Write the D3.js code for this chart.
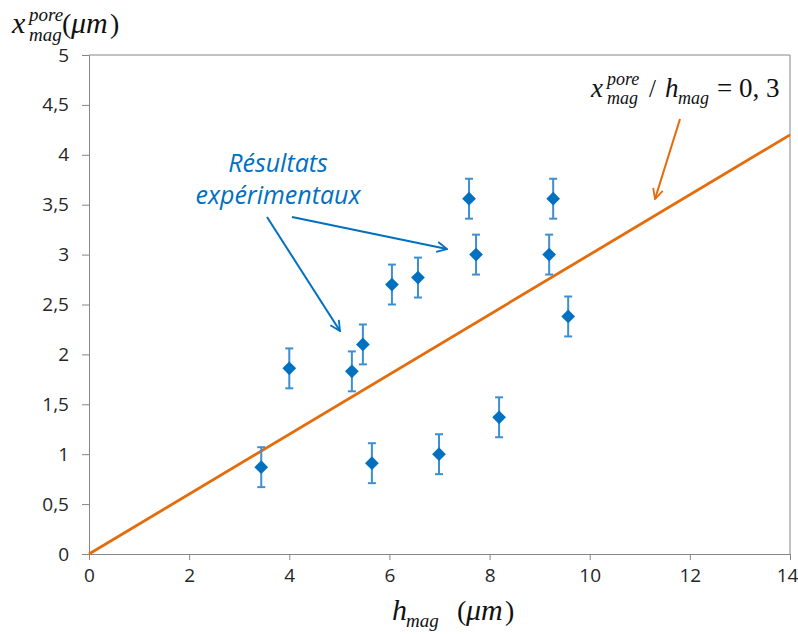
<!DOCTYPE html>
<html>
<head>
<meta charset="utf-8">
<script src="https://cdn.jsdelivr.net/npm/d3@7"></script>
<style>
  body { margin: 0; background: #fff; }
  svg { display: block; }
</style>
</head>
<body>
<div id="wrapper"></div>
<script>
// measured points (h_mag, x_mag^pore) in µm
const hMag = [3.44, 4.0, 5.25, 5.47, 5.65, 6.05, 6.57, 6.99, 7.59, 7.73, 8.19, 9.19, 9.27, 9.57]
const xPore = [0.87, 1.86, 1.83, 2.10, 0.91, 2.70, 2.77, 1.00, 3.56, 3.00, 1.37, 3.00, 3.56, 2.38]
const errBar = [0.2, 0.2, 0.2, 0.2, 0.2, 0.2, 0.2, 0.2, 0.2, 0.2, 0.2, 0.2, 0.2, 0.2]
const ratio = 0.3
const xTicks = [0, 2, 4, 6, 8, 10, 12, 14]
const yTicks = [0, 0.5, 1, 1.5, 2, 2.5, 3, 3.5, 4, 4.5, 5]

const dataset = hMag.map((h, i) => ({ h: h, x: xPore[i], err: errBar[i] }))

const xAccessor = d => d.h
const yAccessor = d => d.x

let dimensions = {
  width: 798,
  height: 634,
  margin: { top: 55, right: 8, bottom: 80, left: 89 }
}
dimensions.boundedWidth = dimensions.width - dimensions.margin.left - dimensions.margin.right
dimensions.boundedHeight = dimensions.height - dimensions.margin.top - dimensions.margin.bottom

const wrapper = d3.select("#wrapper")
  .append("svg")
    .attr("width", dimensions.width)
    .attr("height", dimensions.height)

const defs = wrapper.append("defs")
const addArrow = (id, color) => {
  defs.append("marker")
      .attr("id", id)
      .attr("viewBox", "0 0 12 12")
      .attr("refX", 11)
      .attr("refY", 6)
      .attr("markerWidth", 12)
      .attr("markerHeight", 12)
      .attr("markerUnits", "userSpaceOnUse")
      .attr("orient", "auto")
    .append("path")
      .attr("d", "M1,1 L11,6 L1,11")
      .attr("fill", "none")
      .attr("stroke", color)
      .attr("stroke-width", 1.8)
}
addArrow("arrowBlue", "#0070c0")
addArrow("arrowOrange", "#e46c0a")

const bounds = wrapper.append("g")
    .attr("transform", `translate(${dimensions.margin.left},${dimensions.margin.top})`)

const xScale = d3.scaleLinear()
    .domain([0, 14])
    .range([0, dimensions.boundedWidth])

const yScale = d3.scaleLinear()
    .domain([0, 5])
    .range([dimensions.boundedHeight, 0])

// plot frame (top + right)
bounds.append("path")
    .attr("d", `M0,0 H${dimensions.boundedWidth} V${dimensions.boundedHeight}`)
    .attr("fill", "none")
    .attr("stroke", "#868686")
    .attr("stroke-width", 1)

const fmt = d => String(d).replace(".", ",")

const yAxis = bounds.append("g")
    .attr("font-size", 19)
    .attr("font-family", "'Open Sans', sans-serif")
    .call(d3.axisLeft(yScale).tickValues(yTicks).tickFormat(fmt).tickSize(7).tickPadding(13))
    .attr("font-size", 19)
    .attr("font-family", "'Open Sans', sans-serif")
yAxis.select(".domain").attr("stroke", "#868686")
yAxis.selectAll(".tick line").attr("stroke", "#868686")
yAxis.selectAll("text").attr("fill", "#262626")

const xAxis = bounds.append("g")
    .attr("transform", `translate(0,${dimensions.boundedHeight})`)
    .call(d3.axisBottom(xScale).tickValues(xTicks).tickFormat(fmt).tickSize(6).tickPadding(9))
    .attr("font-size", 19)
    .attr("font-family", "'Open Sans', sans-serif")
xAxis.select(".domain").attr("stroke", "#868686")
xAxis.selectAll(".tick line").attr("stroke", "#868686")
xAxis.selectAll("text").attr("fill", "#262626")
xAxis.selectAll(".tick").filter(d => d === 14).select("text").attr("dx", -3)

// ratio line
const fitLine = d3.line()
    .x(d => xScale(d))
    .y(d => yScale(d * ratio))
bounds.append("path")
    .attr("d", fitLine([0, 14]))
    .attr("fill", "none")
    .attr("stroke", "#e46c0a")
    .attr("stroke-width", 2.8)

// error bars
const errGroup = bounds.append("g")
    .attr("stroke", "#3d8fd4")
    .attr("stroke-width", 2)
errGroup.selectAll(".err")
    .data(dataset)
  .enter().append("line")
    .attr("x1", d => xScale(xAccessor(d)))
    .attr("x2", d => xScale(xAccessor(d)))
    .attr("y1", d => yScale(yAccessor(d) - d.err))
    .attr("y2", d => yScale(yAccessor(d) + d.err))
errGroup.selectAll(".capTop")
    .data(dataset)
  .enter().append("line")
    .attr("x1", d => xScale(xAccessor(d)) - 4)
    .attr("x2", d => xScale(xAccessor(d)) + 4)
    .attr("y1", d => yScale(yAccessor(d) + d.err))
    .attr("y2", d => yScale(yAccessor(d) + d.err))
errGroup.selectAll(".capBottom")
    .data(dataset)
  .enter().append("line")
    .attr("x1", d => xScale(xAccessor(d)) - 4)
    .attr("x2", d => xScale(xAccessor(d)) + 4)
    .attr("y1", d => yScale(yAccessor(d) - d.err))
    .attr("y2", d => yScale(yAccessor(d) - d.err))

// diamonds
bounds.selectAll(".pt")
    .data(dataset)
  .enter().append("path")
    .attr("d", d3.symbol().type(d3.symbolDiamond2).size(120))
    .attr("transform", d => `translate(${xScale(xAccessor(d))},${yScale(yAccessor(d))})`)
    .attr("fill", "#0070c0")

// annotation: experimental results
const note = wrapper.append("text")
    .attr("fill", "#0070c0")
    .style("font-family", "'Open Sans', sans-serif")
    .style("font-style", "italic")
    .style("font-size", "25px")
    .attr("text-anchor", "middle")
note.append("tspan").attr("x", 278).attr("y", 172).text("Résultats")
note.append("tspan").attr("x", 278).attr("y", 204).text("expérimentaux")

wrapper.append("line")
    .attr("x1", 267).attr("y1", 217).attr("x2", 340).attr("y2", 331)
    .attr("stroke", "#0070c0").attr("stroke-width", 2)
    .attr("marker-end", "url(#arrowBlue)")
wrapper.append("line")
    .attr("x1", 292).attr("y1", 217).attr("x2", 447).attr("y2", 249)
    .attr("stroke", "#0070c0").attr("stroke-width", 2)
    .attr("marker-end", "url(#arrowBlue)")

wrapper.append("line")
    .attr("x1", 680).attr("y1", 119).attr("x2", 655).attr("y2", 199)
    .attr("stroke", "#e46c0a").attr("stroke-width", 2)
    .attr("marker-end", "url(#arrowOrange)")

// math labels
const serif = "'Liberation Serif', 'Times New Roman', serif"
const mathText = (x, y, size, str, italic) => wrapper.append("text")
    .attr("x", x).attr("y", y)
    .attr("fill", "#111")
    .style("font-family", serif)
    .style("font-size", size + "px")
    .style("font-style", italic ? "italic" : "normal")
    .text(str)

// y title
mathText(12, 33, 30, "x", true)
mathText(29, 21, 19, "pore", true)
mathText(29, 41, 19, "mag", true)
mathText(62, 33, 28, "(", false)
mathText(71, 33, 30, "μm", true)
mathText(110, 33, 28, ")", false)

// equation
mathText(591, 97, 27, "x", true)
mathText(607, 85, 18, "pore", true)
mathText(607, 104, 18, "mag", true)
mathText(649, 97, 25, "/", false)
mathText(665, 97, 27, "h", true)
mathText(678, 104, 18, "mag", true)
mathText(717, 97, 27, "= 0, 3", false)

// x title
mathText(392, 620, 30, "h", true)
mathText(406, 627, 19, "mag", true)
mathText(457, 620, 28, "(", false)
mathText(466, 620, 30, "μm", true)
mathText(505, 620, 28, ")", false)
</script>
</body>
</html>
